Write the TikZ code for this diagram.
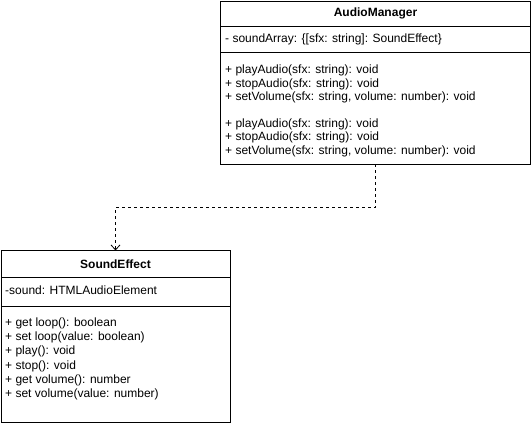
\documentclass[tikz,border=0pt]{standalone}
\usepackage{fontspec}
\setmainfont{Liberation Sans}
\usetikzlibrary{arrows.meta}
\begin{document}
\begin{tikzpicture}[x=1pt,y=-1pt,
  box/.style={draw,line width=1pt,inner sep=0pt,outer sep=0pt},
  title/.style={font=\fontsize{12}{14}\selectfont\bfseries,inner sep=0pt},
  member/.style={font=\fontsize{12}{14}\selectfont,anchor=west,inner sep=0pt},
  divider/.style={line width=1pt},
  dep/.style={dashed,dash pattern=on 3pt off 3pt,line width=0.8pt,-{Straight Barb[length=5pt,width=9pt]}}]
\useasboundingbox (0,0) rectangle (531,424);
% AudioManager
\node[box,minimum width=310pt,minimum height=163pt] (am) at (375.5,82.5) {};
\draw[divider] (220.5,26) -- (530.5,26);
\draw[divider] (220.5,52) -- (530.5,52);
\node[title] (amt) at (375.5,13.5) {AudioManager};
\node[member] (am1) at (225,39.5) {- soundArray: \{[sfx: string]: SoundEffect\}};
\node[member] (am2) at (225,70.5) {+ playAudio(sfx: string): void};
\node[member] (am3) at (225,84) {+ stopAudio(sfx: string): void};
\node[member] (am4) at (225,97.5) {+ setVolume(sfx: string, volume: number): void};
\node[member] (am5) at (225,124) {+ playAudio(sfx: string): void};
\node[member] (am6) at (225,137.5) {+ stopAudio(sfx: string): void};
\node[member] (am7) at (225,151) {+ setVolume(sfx: string, volume: number): void};
% SoundEffect
\node[box,minimum width=229pt,minimum height=172pt] (se) at (115.5,336.5) {};
\draw[divider] (1,277) -- (230,277);
\draw[divider] (1,306) -- (230,306);
\node[title] (set) at (115.5,264) {SoundEffect};
\node[member] (se1) at (5,290.5) {-sound: HTMLAudioElement};
\node[member] (se2) at (5,323) {+ get loop(): boolean};
\node[member] (se3) at (5,337) {+ set loop(value: boolean)};
\node[member] (se4) at (5,351.5) {+ play(): void};
\node[member] (se5) at (5,366) {+ stop(): void};
\node[member] (se6) at (5,380) {+ get volume(): number};
\node[member] (se7) at (5,394) {+ set volume(value: number)};
% dependency
\coordinate (bend) at (375.5,207);
\draw[dep] (am.south) -- (bend) -| (se.north);
\end{tikzpicture}
\end{document}
